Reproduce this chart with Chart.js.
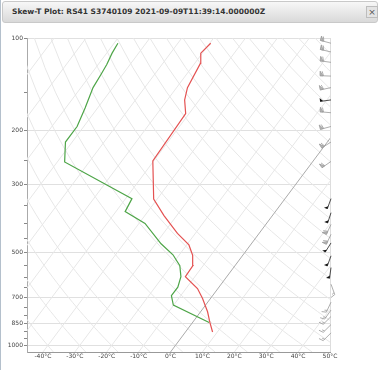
<!DOCTYPE html>
<html>
<head>
<meta charset="utf-8">
<script src="https://cdn.jsdelivr.net/npm/chart.js@4/dist/chart.umd.min.js"></script>
<style>
  body { margin: 0; width: 380px; height: 370px; overflow: hidden; background: #fff; font-family: "DejaVu Sans", sans-serif; }
  .edge { position: absolute; left: 0; top: 0; width: 1px; height: 370px; background: #b4c0cc; }
  .bar { position: absolute; left: 2px; top: 1px; width: 374px; height: 20px; border: 1px solid #c9c9c9; border-radius: 3px; background: linear-gradient(#f7f7f7, #d9d9d9); }
  .title { position: absolute; left: 9px; top: 5px; font-weight: bold; font-size: 7.5px; color: #333; white-space: nowrap; }
  .close { position: absolute; left: 363px; top: 4px; width: 10px; height: 10px; border: 1px solid #bdbdbd; background: #e4e4e4; color: #555; font-size: 9px; line-height: 10px; text-align: center; }
  canvas { position: absolute; left: 0; top: 24px; }
</style>
</head>
<body>
<div class="edge"></div>
<div class="bar">
  <div class="title">Skew-T Plot: RS41 S3740109 2021-09-09T11:39:14.000000Z</div>
  <div class="close">×</div>
</div>
<canvas id="skewt" width="380" height="346"></canvas>
<script>
// sounding (hPa / degC)
const tempP = [904, 839, 777, 703, 653, 597, 550, 509, 471, 432, 378, 334, 251, 176, 159, 145, 121, 112, 104]
const tempC = [8.5, 5.3, 2.2, -2.5, -6.4, -13.0, -13.2, -15.7, -19.3, -25.6, -34.0, -41.1, -50.3, -51.1, -54.6, -56.6, -58.2, -60.5, -59.7]
const dewP = [842, 739, 689, 646, 597, 550, 507, 467, 401, 367, 333, 253, 218, 194, 169, 145, 131, 122, 112, 104]
const dewC = [5.2, -10.1, -12.9, -12.9, -14.4, -17.3, -22.0, -28.3, -38.1, -47.1, -48.0, -77.7, -82.1, -82.1, -83.9, -86.2, -86.8, -87.3, -88.3, -88.8]

// winds (hPa, deg, knots)
const barbP = [104, 111, 120, 133, 145, 159, 175, 194, 218, 252, 333, 370, 404, 435, 464, 511, 558, 632, 723, 767, 805, 855, 910]
const barbDir = [285, 283, 278, 272, 258, 262, 275, 255, 238, 235, 200, 198, 205, 205, 212, 200, 188, 160, 205, 215, 225, 225, 225]
const barbSpd = [60, 60, 60, 60, 60, 50, 60, 60, 60, 60, 50, 50, 60, 60, 50, 50, 50, 15, 15, 15, 15, 15, 15]
const barbDark = [0, 0, 0, 0, 0, 1, 0, 0, 0, 0, 1, 1, 0, 0, 1, 1, 1, 0, 0, 0, 0, 0, 0]

const pressureTicks = [100, 150, 200, 250, 300, 350, 400, 450, 500, 550, 600, 650, 700, 750, 800, 850, 900, 950, 1000]
const pressureLabels = [100, 200, 300, 500, 700, 850, 1000]
const tempTicks = [-40, -30, -20, -10, 0, 10, 20, 30, 40, 50]

const P_BOTTOM = 1050
const P_TOP = 100
const SKEW = 72 // degC per decade of pressure

function skewX(t, p) {
  return t + SKEW * Math.log10(P_BOTTOM / p)
}

function profile(ps, ts) {
  return ps.map((p, i) => ({ x: skewX(ts[i], p), y: p }))
}

let datasets = [
  { data: profile(tempP, tempC), borderColor: "rgb(228, 82, 82)", borderWidth: 1.2 },
  { data: profile(dewP, dewC), borderColor: "rgb(78, 165, 72)", borderWidth: 1.2 },
  { data: [{ x: skewX(0, P_BOTTOM), y: P_BOTTOM }, { x: skewX(0, P_TOP), y: P_TOP }], borderColor: "#aaa", borderWidth: 1 }
]

// isotherms
for (let t = -110; t <= 50; t += 10) {
  if (t == 0) continue
  datasets.push({
    data: [{ x: skewX(t, P_BOTTOM), y: P_BOTTOM }, { x: skewX(t, P_TOP), y: P_TOP }],
    borderColor: "#e7e7e7", borderWidth: 1
  })
}

// dry adiabats
let adiabatP = []
for (let p = P_BOTTOM; p >= P_TOP; p -= 25) adiabatP.push(p)
for (let th = -50; th <= 210; th += 10) {
  datasets.push({
    data: adiabatP.map(p => ({ x: skewX((th + 273.15) * Math.pow(p / 1000, 0.286) - 273.15, p), y: p })),
    borderColor: "#e7e7e7", borderWidth: 1
  })
}

function drawBarb(ctx, x, y, dir, spd, dark) {
  const a = dir * Math.PI / 180
  const ux = Math.sin(a), uy = -Math.cos(a)
  const px = -uy, py = ux
  const L = 11
  ctx.save()
  ctx.strokeStyle = dark ? "#222" : "#999"
  ctx.fillStyle = dark ? "#111" : "#b8b8b8"
  ctx.lineWidth = 0.8
  ctx.beginPath()
  ctx.moveTo(x, y)
  ctx.lineTo(x + ux * L, y + uy * L)
  ctx.stroke()
  let pos = L, rest = spd
  while (rest >= 50) {
    const bx = x + ux * pos, by = y + uy * pos
    const w = dark ? 3.5 : 4.5
    ctx.beginPath()
    ctx.moveTo(bx, by)
    ctx.lineTo(bx + px * w, by + py * w)
    ctx.lineTo(bx - ux * 3, by - uy * 3)
    ctx.closePath()
    ctx.fill()
    if (!dark) ctx.stroke()
    pos -= 3.5
    rest -= 50
  }
  while (rest >= 10) {
    const bx = x + ux * pos, by = y + uy * pos
    ctx.beginPath()
    ctx.moveTo(bx, by)
    ctx.lineTo(bx + px * 4.5 + ux * 1.5, by + py * 4.5 + uy * 1.5)
    ctx.stroke()
    pos -= 2
    rest -= 10
  }
  if (rest >= 5) {
    const bx = x + ux * pos, by = y + uy * pos
    ctx.beginPath()
    ctx.moveTo(bx, by)
    ctx.lineTo(bx + px * 2.5 + ux * 1, by + py * 2.5 + uy * 1)
    ctx.stroke()
  }
  ctx.restore()
}

const barbPlugin = {
  id: "barbs",
  afterDatasetsDraw(chart) {
    const ctx = chart.ctx
    const x = chart.chartArea.right + 1
    for (let i = 0; i < barbP.length; i++) {
      drawBarb(ctx, x, chart.scales.y.getPixelForValue(barbP[i]), barbDir[i], barbSpd[i], barbDark[i])
    }
  }
}

const tickFont = { family: "DejaVu Sans", size: 6 }

new Chart(document.getElementById("skewt"), {
  type: "line",
  data: { datasets: datasets },
  plugins: [barbPlugin],
  options: {
    responsive: false,
    animation: false,
    devicePixelRatio: 1,
    layout: { padding: { top: 14, right: 50, bottom: 4, left: 0 } },
    elements: { point: { radius: 0 }, line: { tension: 0 } },
    plugins: { legend: { display: false }, tooltip: { enabled: false } },
    scales: {
      x: {
        type: "linear",
        min: -45,
        max: 50,
        afterBuildTicks: s => { s.ticks = tempTicks.map(v => ({ value: v })) },
        afterFit: s => { s.height = 14 },
        ticks: { font: tickFont, color: "#444", padding: 1, maxRotation: 0, autoSkip: false, callback: v => v + "°C" },
        grid: {
          color: c => (c.tick && c.tick.value == 50 ? "#ddd" : "rgba(0,0,0,0)"),
          drawTicks: false
        },
        border: { color: "#999" }
      },
      y: {
        type: "logarithmic",
        reverse: true,
        min: P_TOP,
        max: P_BOTTOM,
        afterBuildTicks: s => { s.ticks = pressureTicks.map(v => ({ value: v })) },
        afterFit: s => { s.width = 27 },
        ticks: {
          font: tickFont, color: "#444", padding: 1, autoSkip: false,
          callback: v => (pressureLabels.includes(v) ? String(v) : "")
        },
        grid: {
          color: c => (c.tick && pressureLabels.includes(c.tick.value) ? "#e0e0e0" : "rgba(0,0,0,0)"),
          tickColor: "#888",
          tickLength: 3
        },
        border: { color: "#aaa" }
      }
    }
  }
})
</script>
</body>
</html>
